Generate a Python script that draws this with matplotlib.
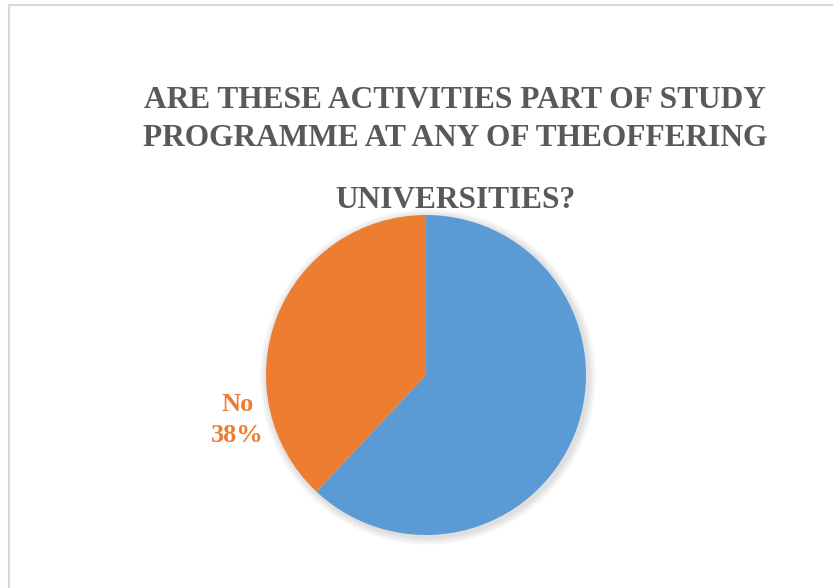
import matplotlib.pyplot as plt
from matplotlib.lines import Line2D
from matplotlib.patches import Circle

# data
labels = ["Yes", "No"]
values = [62, 38]
colors = ["#5B9BD5", "#ED7D31"]
title_lines = ["ARE THESE ACTIVITIES PART OF STUDY",
               "PROGRAMME AT ANY OF THEOFFERING",
               "UNIVERSITIES?"]

plt.rcParams['font.family'] = ['Liberation Serif', 'DejaVu Serif']

fig = plt.figure(figsize=(8.33, 5.88), dpi=100)

# chart border (light gray frame)
fig.add_artist(Line2D([9/833, 9/833], [0, 1 - 5/588], color="#D9D9D9", lw=1.5))
fig.add_artist(Line2D([9/833, 1], [1 - 5/588, 1 - 5/588], color="#D9D9D9", lw=1.5))

# title, three lines
title_y = [100, 139, 201]
for line, y in zip(title_lines, title_y):
    fig.text(455/833, 1 - y/588, line, ha="center", va="center",
             fontsize=22.6, fontweight="bold", color="#595959")

ax = fig.add_axes([266/833, 53/588, 320/833, 320/588])

# soft shadow
for i in range(4):
    ax.add_patch(Circle((0.012, -0.012), 1 + 0.012 * (4 - i), color="black",
                        alpha=0.03, lw=0, zorder=0, clip_on=False))

wedges, _ = ax.pie(values, colors=colors, startangle=90, counterclock=False,
                   radius=1, wedgeprops=dict(linewidth=0))
for w in wedges:
    w.set_zorder(2)

ax.text(-1.18, -0.28, "No\n38%", ha="center", va="center", fontsize=19,
        fontweight="bold", color="#ED7D31", linespacing=1.45)

ax.set_xlim(-1, 1)
ax.set_ylim(-1, 1)
ax.set_aspect("equal")
ax.axis("off")

plt.savefig("out.png", dpi=100)
